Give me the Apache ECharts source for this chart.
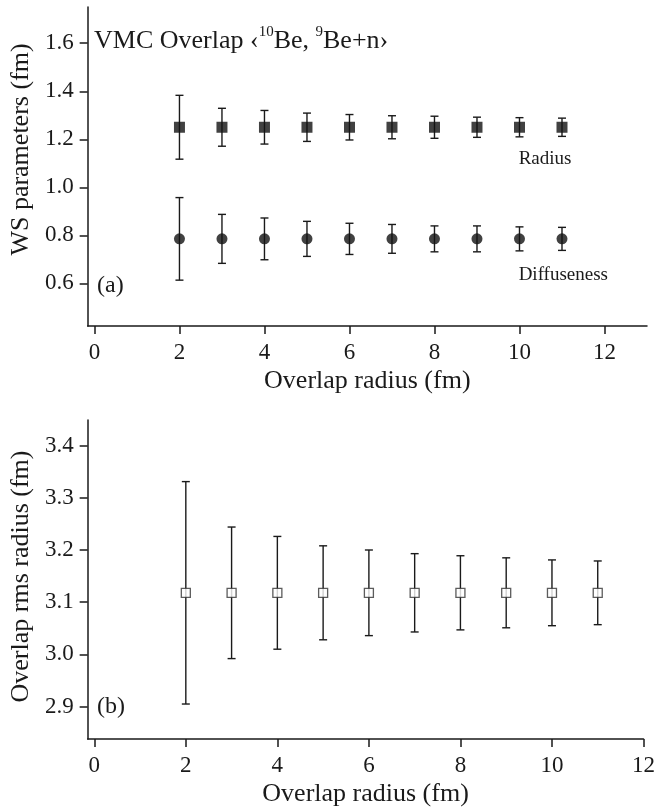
<!DOCTYPE html>
<html>
<head>
<meta charset="utf-8">
<script src="https://cdn.jsdelivr.net/npm/echarts@6/dist/echarts.min.js"></script>
<style>
  html, body { margin: 0; padding: 0; background: #fff; }
  #chart { width: 658px; height: 810px; }
</style>
</head>
<body>
<div id="chart"></div>
<script>
// Overlap radius (fm) at which each VMC overlap was evaluated
const overlapRadius = [2, 3, 4, 5, 6, 7, 8, 9, 10, 11];

// Panel (a): Woods-Saxon parameters with their uncertainties
const wsRadius      = [1.25, 1.25, 1.25, 1.25, 1.25, 1.25, 1.25, 1.25, 1.25, 1.25];
const wsRadiusErr   = [0.133, 0.079, 0.070, 0.059, 0.053, 0.048, 0.046, 0.042, 0.040, 0.038];
const wsDiffuse     = [0.785, 0.785, 0.785, 0.785, 0.785, 0.785, 0.785, 0.785, 0.785, 0.785];
const wsDiffuseErr  = [0.172, 0.102, 0.087, 0.073, 0.065, 0.060, 0.054, 0.054, 0.050, 0.048];

// Panel (b): overlap rms radius with its uncertainty
const rmsRadius     = [3.118, 3.118, 3.118, 3.118, 3.118, 3.118, 3.118, 3.118, 3.118, 3.118];
const rmsRadiusErr  = [0.213, 0.126, 0.108, 0.090, 0.082, 0.075, 0.071, 0.067, 0.063, 0.061];

// Tick labels
const xTicks     = [0, 2, 4, 6, 8, 10, 12];
const yTicksTop  = [0.6, 0.8, 1.0, 1.2, 1.4, 1.6];
const yTicksBot  = [2.9, 3.0, 3.1, 3.2, 3.3, 3.4];

const FONT = 'Liberation Serif';
const INK = '#1a1a1a';

const chart = echarts.init(document.getElementById('chart'), null, { renderer: 'canvas' });

function triples(ys, errs) {
  return overlapRadius.map((x, i) => [x, ys[i], errs[i]]);
}

function errorBarSeries(idx, ys, errs) {
  return {
    type: 'custom',
    xAxisIndex: idx,
    yAxisIndex: idx,
    data: triples(ys, errs),
    encode: { x: 0, y: 1 },
    silent: true,
    z: 2,
    renderItem: function (params, api) {
      const x = api.value(0), y = api.value(1), e = api.value(2);
      const hi = api.coord([x, y + e]);
      const lo = api.coord([x, y - e]);
      const cap = 4;
      const st = { stroke: INK, lineWidth: 1.4 };
      return {
        type: 'group',
        children: [
          { type: 'line', shape: { x1: hi[0], y1: hi[1], x2: lo[0], y2: lo[1] }, style: st },
          { type: 'line', shape: { x1: hi[0] - cap, y1: hi[1], x2: hi[0] + cap, y2: hi[1] }, style: st },
          { type: 'line', shape: { x1: lo[0] - cap, y1: lo[1], x2: lo[0] + cap, y2: lo[1] }, style: st }
        ]
      };
    }
  };
}

function xAxisDef(idx, max) {
  return {
    type: 'value',
    gridIndex: idx,
    min: idx === 0 ? -0.16 : -0.145,
    max: max,
    name: 'Overlap radius (fm)',
    nameLocation: 'middle',
    nameGap: 42,
    nameTextStyle: { fontFamily: FONT, fontSize: 26, color: INK },
    axisLine: { show: true, onZero: false, lineStyle: { color: INK, width: 1.5 } },
    axisTick: { show: true, inside: false, length: 8, customValues: xTicks, lineStyle: { color: INK, width: 1.5 } },
    axisLabel: { customValues: xTicks, margin: 15, fontFamily: FONT, fontSize: 23, color: INK },
    splitLine: { show: false }
  };
}

function yAxisDef(idx, min, max, ticks, name, pad, digits) {
  return {
    type: 'value',
    gridIndex: idx,
    min: min,
    max: max,
    name: name,
    nameLocation: 'middle',
    nameGap: 51,
    nameTextStyle: { fontFamily: FONT, fontSize: 26, color: INK, padding: pad },
    axisLine: { show: true, onZero: false, lineStyle: { color: INK, width: 1.5 } },
    axisTick: { show: true, inside: false, length: 8, customValues: ticks, lineStyle: { color: INK, width: 1.5 } },
    axisLabel: {
      customValues: ticks, margin: 14, fontFamily: FONT, fontSize: 23, color: INK,
      formatter: v => v.toFixed(digits)
    },
    splitLine: { show: false }
  };
}

chart.setOption({
  animation: false,
  backgroundColor: '#fff',
  grid: [
    { left: 87, right: 11, top: 7, height: 319 },
    { left: 87, right: 11, top: 420, height: 319 }
  ],
  xAxis: [xAxisDef(0, 13), xAxisDef(1, 12)],
  yAxis: [
    yAxisDef(0, 0.422, 1.751, yTicksTop, 'WS parameters (fm)', [0, 0, 0, 34], 1),
    yAxisDef(1, 2.838, 3.449, yTicksBot, 'Overlap rms radius (fm)', [0, 0, 0, 6], 1)
  ],
  series: [
    errorBarSeries(0, wsRadius, wsRadiusErr),
    errorBarSeries(0, wsDiffuse, wsDiffuseErr),
    errorBarSeries(1, rmsRadius, rmsRadiusErr),
    {
      name: 'Radius', type: 'scatter', xAxisIndex: 0, yAxisIndex: 0, z: 3,
      symbol: 'rect', symbolSize: 11,
      itemStyle: { color: '#111' },
      data: overlapRadius.map((x, i) => [x, wsRadius[i]])
    },
    {
      name: 'Diffuseness', type: 'scatter', xAxisIndex: 0, yAxisIndex: 0, z: 3,
      symbol: 'circle', symbolSize: 11,
      itemStyle: { color: '#111' },
      data: overlapRadius.map((x, i) => [x, wsDiffuse[i]])
    },
    {
      name: 'rms radius', type: 'scatter', xAxisIndex: 1, yAxisIndex: 1, z: 3,
      symbol: 'rect', symbolSize: 9,
      itemStyle: { color: '#fff', borderColor: '#333', borderWidth: 1.3 },
      data: overlapRadius.map((x, i) => [x, rmsRadius[i]])
    }
  ]
});

// Text annotations anchored in data coordinates of each panel
function at(gridIndex, pt) {
  return chart.convertToPixel({ gridIndex: gridIndex }, pt);
}
const pRadius = at(0, [9.98, 1.117]);
const pDiff   = at(0, [9.98, 0.635]);
const pA      = at(0, [0.06, 0.59]);
const pB      = at(1, [0.06, 2.9]);

chart.setOption({
  graphic: [
    {
      type: 'text', left: 94, top: 25,
      style: {
        text: 'VMC Overlap ‹{sup|10}Be, {sup|9}Be+n›',
        fontFamily: FONT, fontSize: 26, fill: INK,
        rich: {
          sup: { fontFamily: FONT, fontSize: 15, fill: INK, padding: [0, 0, 18, 0] }
        }
      }
    },
    {
      type: 'text', x: pRadius[0], y: pRadius[1],
      style: { text: 'Radius', fontFamily: FONT, fontSize: 19, fill: INK, verticalAlign: 'middle', align: 'left' }
    },
    {
      type: 'text', x: pDiff[0], y: pDiff[1],
      style: { text: 'Diffuseness', fontFamily: FONT, fontSize: 19, fill: INK, verticalAlign: 'middle', align: 'left' }
    },
    {
      type: 'text', x: pA[0], y: pA[1],
      style: { text: '(a)', fontFamily: FONT, fontSize: 24, fill: INK, verticalAlign: 'middle', align: 'left' }
    },
    {
      type: 'text', x: pB[0], y: pB[1],
      style: { text: '(b)', fontFamily: FONT, fontSize: 24, fill: INK, verticalAlign: 'middle', align: 'left' }
    }
  ]
});
</script>
</body>
</html>
